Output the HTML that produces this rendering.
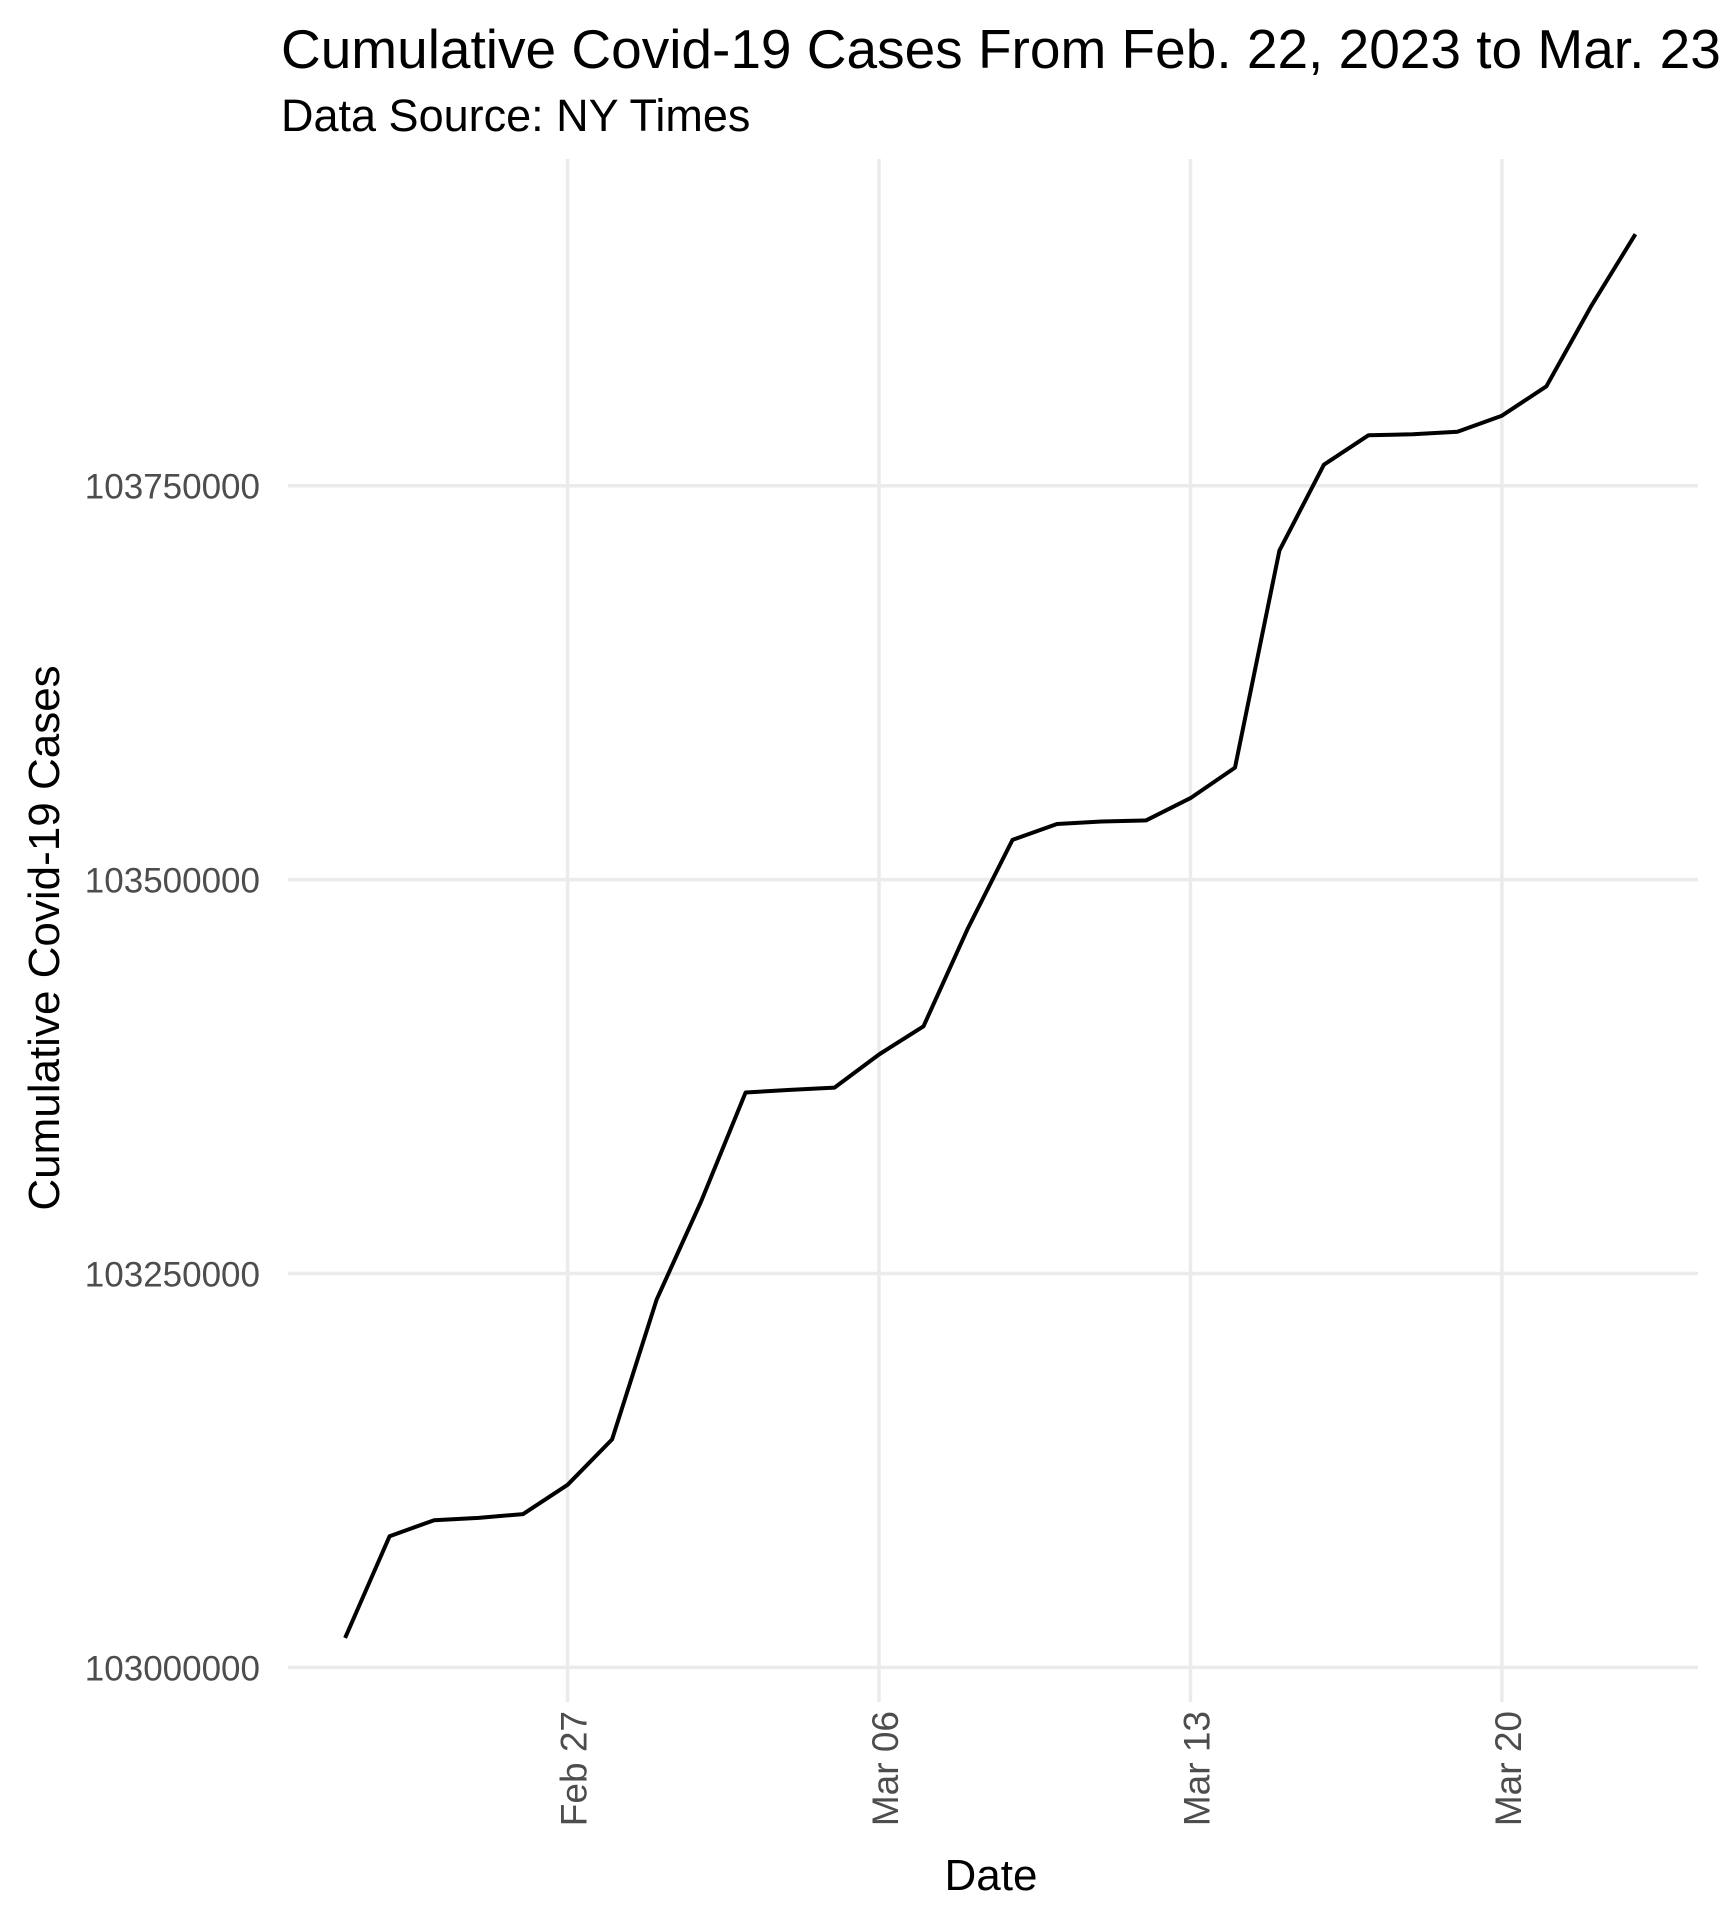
<!DOCTYPE html>
<html><head><meta charset="utf-8"><style>
body{margin:0;background:#fff}
svg{display:block;font-family:"Liberation Sans",Arial,sans-serif}
</style></head><body>
<svg id="chart" width="1720" height="1920" viewBox="0 0 1720 1920">
<text x="281" y="68" font-size="55" fill="#000">Cumulative Covid-19 Cases From Feb. 22, 2023 to Mar. 23</text>
<text x="281" y="131" font-size="45" fill="#000">Data Source: NY Times</text>
<g id="grid"></g>
<g id="yticks"></g>
<g id="xticks"></g>
<path id="series" fill="none" stroke="#000" stroke-width="4" stroke-linejoin="round"></path>
<text x="991" y="1890" font-size="44" text-anchor="middle" fill="#000">Date</text>
<text transform="translate(59,938) rotate(-90)" font-size="44" text-anchor="middle" fill="#000">Cumulative Covid-19 Cases</text>
</svg>
<script>
const dayIndex = [0,1,2,3,4,5,6,7,8,9,10,11,12,13,14,15,16,17,18,19,20,21,22,23,24,25,26,27,28,29];
const cases = [103018700,103083300,103093400,103094900,103097300,103115900,103144700,103233400,103295700,103364900,103366500,103368000,103389000,103406900,103469200,103525200,103535300,103536900,103537600,103551700,103571100,103708800,103763300,103782000,103782700,103784300,103794400,103813100,103863700,103909600];
const yTicks = [103000000,103250000,103500000,103750000];
const xTickDays = [5,12,19,26];
const xTickLabels = ["Feb 27","Mar 06","Mar 13","Mar 20"];

const PL=288, PR=1698, PT=159, PB=1702;
function xs(d){ return 567.6 + (d-5)*44.49; }
function ys(v){ return 1667.4 - (v-103000000)/250000*393.9; }
const NS="http://www.w3.org/2000/svg";
const grid=document.getElementById('grid'), yt=document.getElementById('yticks'), xt=document.getElementById('xticks');
yTicks.forEach(v=>{
  const l=document.createElementNS(NS,'line');
  
  
  l.setAttribute('x1',PL);l.setAttribute('x2',PR);l.setAttribute('y1',ys(v));l.setAttribute('y2',ys(v));
  l.setAttribute('stroke','#ebebeb');l.setAttribute('stroke-width','3.5');
  grid.appendChild(l);
  const t=document.createElementNS(NS,'text');
  
  
  t.setAttribute('x',260);t.setAttribute('y',ys(v)+13);t.setAttribute('font-size','35');
  t.setAttribute('text-anchor','end');t.setAttribute('fill','#4d4d4d');
  t.textContent=v; yt.appendChild(t);
});
xTickDays.forEach((d,i)=>{
  const l=document.createElementNS(NS,'line');
  
  
  l.setAttribute('x1',xs(d));l.setAttribute('x2',xs(d));l.setAttribute('y1',PT);l.setAttribute('y2',PB);
  l.setAttribute('stroke','#ebebeb');l.setAttribute('stroke-width','3.5');
  grid.appendChild(l);
  const t=document.createElementNS(NS,'text');
  
  
  t.setAttribute('transform','translate('+(xs(d)+19)+',1711) rotate(-90)');
  t.setAttribute('font-size','37');t.setAttribute('text-anchor','end');t.setAttribute('fill','#4d4d4d');
  t.textContent=xTickLabels[i]; xt.appendChild(t);
});
document.getElementById('series').setAttribute('d', dayIndex.map((d,i)=>(i?'L':'M')+xs(d).toFixed(1)+','+ys(cases[i]).toFixed(1)).join(' '));
</script>
</body></html>
